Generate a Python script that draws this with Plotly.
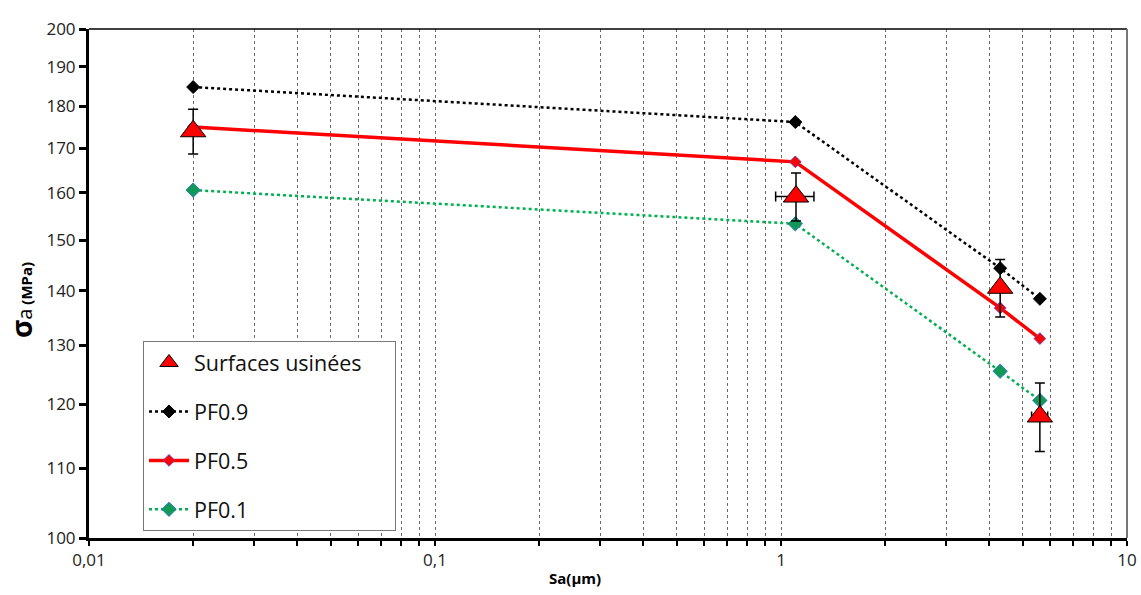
import plotly.graph_objects as go
import numpy as np

# Data
sa = [0.02, 1.1, 4.3, 5.6]
pf09 = [184.8, 176.2, 144.4, 138.5]
pf05 = [175.0, 166.9, 136.8, 131.2]
pf01 = [160.6, 153.4, 125.5, 120.6]

sa_exp = [0.02, 1.105, 4.3, 5.6]
sig_exp = [174.0, 159.2, 140.6, 118.0]
sig_err = [5.3, 5.2, 5.5, 5.5]
sa_err = [0.0, 0.14, 0.0, 0.3]

x_ticks = [0.01, 0.1, 1, 10]
x_ticktext = ["0,01", "0,1", "1", "10"]
y_ticks = [100, 110, 120, 130, 140, 150, 160, 170, 180, 190, 200]

FONT = "Open Sans"

fig = go.Figure()

fig.add_trace(go.Scatter(
    x=sa, y=pf09, name="PF0.9", mode="lines+markers", legendgroup="g2", legendrank=2,
    line=dict(color="black", width=2.5, dash="dot"),
    marker=dict(symbol="diamond", size=10, color="black", line=dict(color="black", width=1)),
))
fig.add_trace(go.Scatter(
    x=sa, y=pf05, name="PF0.5", mode="lines+markers", legendgroup="g3", legendrank=3,
    line=dict(color="#ff0000", width=3.5),
    marker=dict(symbol="diamond", size=9, color="#ff0000", line=dict(color="#7040b0", width=1)),
))
fig.add_trace(go.Scatter(
    x=sa, y=pf01, name="PF0.1", mode="lines+markers", legendgroup="g4", legendrank=4,
    line=dict(color="#00b050", width=2.5, dash="dot"),
    marker=dict(symbol="diamond", size=11, color="#119955", line=dict(color="#2a7ac0", width=1)),
))
fig.add_trace(go.Scatter(
    x=sa_exp, y=sig_exp, name="Surfaces usinées\u00a0\u00a0\u00a0\u00a0\u00a0", mode="markers",
    legendgroup="g1", legendrank=1,
    marker=dict(symbol="triangle-up", size=22, color="#ff0000", line=dict(color="black", width=1)),
    error_y=dict(type="data", array=sig_err, color="black", thickness=1.5, width=5),
    error_x=dict(type="data", array=sa_err, color="black", thickness=1.5, width=5),
))

# x grid positions at every 1..9 per decade
xgrid = [m * 10.0 ** d for d in range(-2, 1) for m in range(1, 10)] + [10]
xgrid_text = []
for v in xgrid:
    lab = ""
    for t, tt in zip(x_ticks, x_ticktext):
        if abs(v - t) / t < 1e-9:
            lab = tt
    xgrid_text.append(lab)

fig.update_layout(
    width=1141, height=595,
    margin=dict(l=89, r=14, t=29, b=57),
    paper_bgcolor="white", plot_bgcolor="white",
    font=dict(family=FONT, color="#222"),
    showlegend=True,
    legend=dict(
        x=(143 - 89) / 1038, y=(538 - 341) / 509, xanchor="left", yanchor="top",
        bgcolor="white", bordercolor="#777", borderwidth=1,
        font=dict(family=FONT, size=21.5, color="#111"),
        tracegroupgap=18, itemwidth=40,
    ),
    xaxis=dict(
        type="log", range=[-2, 1], automargin=False,
        tickvals=xgrid, ticktext=xgrid_text,
        ticks="outside", ticklen=5, tickwidth=2, tickcolor="black",
        showline=True, linecolor="black", linewidth=3,
        showgrid=True, gridcolor="#6a6a6a", gridwidth=1, griddash="dot",
        tickfont=dict(size=17, color="#222"),
        zeroline=False,
    ),
    yaxis=dict(
        type="log", range=[2, np.log10(200)], automargin=False,
        tickvals=y_ticks, ticktext=[str(v) for v in y_ticks],
        ticks="outside", ticklen=7, tickwidth=3, tickcolor="black",
        showline=True, linecolor="black", linewidth=3,
        showgrid=False, zeroline=False,
        tickfont=dict(size=17, color="#222"),
    ),
    shapes=[
        dict(type="line", xref="paper", yref="paper", x0=0, x1=1, y0=1, y1=1,
             line=dict(color="black", width=1.5)),
        dict(type="line", xref="paper", yref="paper", x0=1, x1=1, y0=0, y1=1,
             line=dict(color="#777", width=2)),
    ],
    annotations=[
        dict(text="<b>σ</b><span style='font-size:20px'>a</span><span style='font-size:15px'> <b>(MPa)</b></span>",
             xref="paper", yref="paper", x=(21 - 89) / 1038, y=(538 - 300) / 509,
             textangle=-90, showarrow=False, xanchor="center", yanchor="middle",
             font=dict(family=FONT, size=28, color="black")),
        dict(text="<b>Sa(µm)</b>", xref="paper", yref="paper",
             x=(575 - 89) / 1038, y=(538 - 578) / 509, showarrow=False,
             xanchor="center", yanchor="middle",
             font=dict(family=FONT, size=15, color="black")),
    ],
)

fig.write_html("out.html", config={"displayModeBar": False},
               post_script="document.body.style.margin='0';document.body.style.padding='0';")
